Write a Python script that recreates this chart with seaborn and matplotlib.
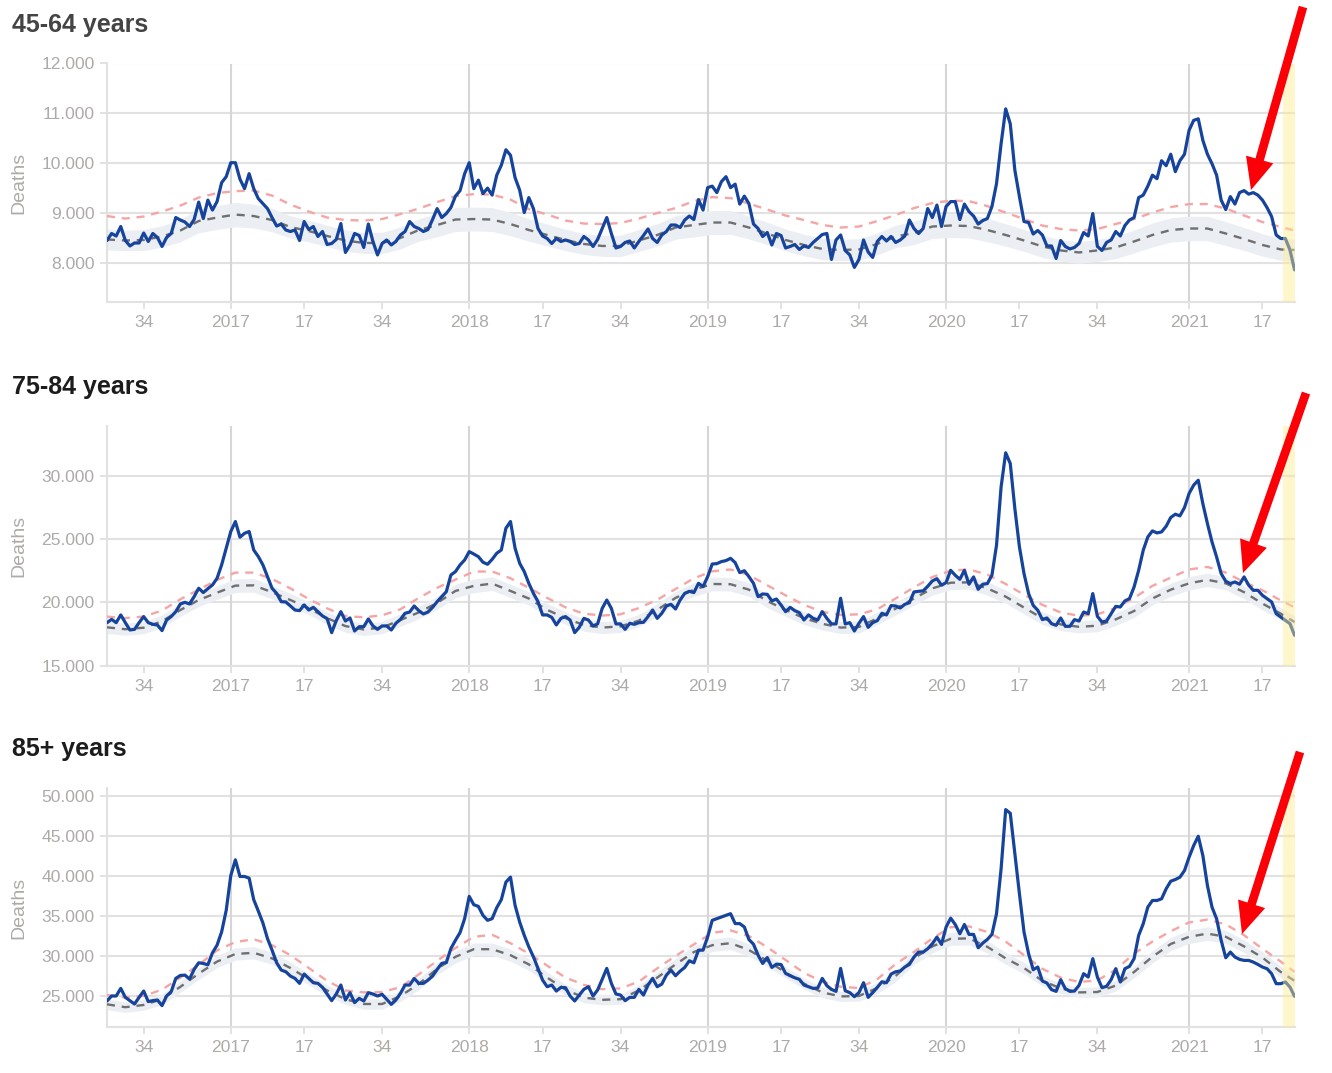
import matplotlib
matplotlib.use("Agg")
import matplotlib.pyplot as plt
import numpy as np
import pandas as pd
import seaborn as sns

sns.set_theme(style="white")
plt.rcParams["font.family"] = ["Liberation Sans", "DejaVu Sans"]

# weekly deaths (one row = 20 weeks)
deaths_45_64 = [
    8450, 8590, 8540, 8730, 8450, 8340, 8400, 8400, 8600, 8430, 8590, 8510, 8330, 8510, 8590, 8910, 8860, 8820, 8730, 8870,
    9220, 8890, 9260, 9060, 9230, 9610, 9730, 10010, 10010, 9680, 9490, 9790, 9490, 9290, 9190, 9090, 8910, 8740, 8780, 8660,
    8630, 8660, 8450, 8830, 8670, 8730, 8530, 8630, 8370, 8390, 8470, 8790, 8210, 8360, 8590, 8550, 8310, 8780, 8430, 8160,
    8390, 8460, 8360, 8430, 8560, 8630, 8830, 8730, 8690, 8630, 8670, 8870, 9090, 8910, 8990, 9110, 9340, 9450, 9790, 10010,
    9490, 9660, 9390, 9500, 9360, 9760, 9960, 10270, 10160, 9710, 9460, 9010, 9310, 9090, 8690, 8540, 8490, 8390, 8490, 8430,
    8460, 8430, 8370, 8390, 8530, 8460, 8330, 8470, 8690, 8910, 8590, 8300, 8330, 8410, 8440, 8300, 8430, 8550, 8680, 8490,
    8410, 8560, 8630, 8760, 8760, 8710, 8860, 8940, 8870, 9270, 9060, 9510, 9540, 9410, 9630, 9730, 9510, 9580, 9180, 9340,
    9190, 8780, 8690, 8530, 8610, 8360, 8590, 8550, 8300, 8330, 8370, 8270, 8340, 8310, 8410, 8490, 8570, 8590, 8070, 8460,
    8560, 8250, 8160, 7910, 8070, 8460, 8220, 8110, 8430, 8530, 8440, 8530, 8410, 8460, 8540, 8860, 8690, 8590, 8690, 9090,
    8910, 9160, 8730, 9130, 9230, 9230, 8870, 9180, 9030, 8940, 8780, 8850, 8890, 9130, 9590, 10390, 11090, 10790, 9860, 9330,
    8830, 8810, 8580, 8650, 8560, 8340, 8340, 8090, 8450, 8330, 8280, 8310, 8390, 8610, 8540, 8990, 8330, 8250, 8410, 8460,
    8630, 8540, 8750, 8860, 8910, 9310, 9360, 9540, 9760, 9690, 10050, 9950, 10180, 9830, 10050, 10180, 10660, 10860, 10890, 10460,
    10180, 9990, 9760, 9260, 9070, 9330, 9180, 9410, 9450, 9380, 9410, 9360, 9260, 9110, 8930, 8560, 8490, 8490, 8260, 7860,
]
deaths_75_84 = [
    18390, 18650, 18390, 19000, 18390, 17810, 17860, 18390, 18870, 18390, 18260, 18200, 17760, 18600, 18870, 19260, 19870, 20000, 19870, 20450,
    21110, 20770, 21080, 21370, 21900, 22960, 24280, 25600, 26390, 25150, 25460, 25600, 24140, 23620, 22960, 22030, 21110, 20710, 20050, 20030,
    19710, 19390, 19340, 19790, 19390, 19600, 19260, 18920, 18710, 17600, 18550, 19260, 18520, 18760, 17730, 18070, 18070, 18680, 18130, 17860,
    18130, 18130, 17810, 18340, 18650, 19130, 19230, 19710, 19340, 19080, 19230, 19600, 20050, 20450, 20840, 22160, 22430, 22960, 23350, 24010,
    23820, 23610, 23170, 23010, 23400, 23880, 24140, 25860, 26390, 24280, 23090, 22430, 21500, 20710, 20050, 19000, 19000, 18810, 18210, 18730,
    18870, 18600, 17600, 18020, 18730, 18600, 18130, 18290, 19520, 20180, 19520, 18290, 18290, 17860, 18340, 18260, 18390, 18420, 18870, 19390,
    18730, 19130, 19710, 19840, 19470, 20180, 20710, 20870, 20770, 21500, 21240, 22030, 23030, 23060, 23220, 23300, 23480, 23140, 22350, 22500,
    22030, 21500, 20450, 20660, 20630, 20110, 20260, 19790, 19260, 19600, 19340, 19180, 18600, 19000, 18730, 18600, 19260, 18730, 18290, 18290,
    20320, 18290, 18390, 17730, 18340, 18870, 18020, 18390, 18550, 19130, 19000, 19740, 19710, 19550, 19840, 19970, 20820, 20870, 20900, 21270,
    21690, 21870, 21350, 21560, 22530, 22140, 21820, 22530, 21430, 22010, 21030, 21430, 21480, 22140, 24510, 29130, 31830, 30980, 27420, 24380,
    22270, 20690, 19760, 19370, 18630, 18760, 18310, 18180, 18760, 18100, 18100, 18630, 18520, 19230, 19100, 20690, 18890, 18440, 18520, 19100,
    19680, 19630, 20110, 20290, 21210, 22530, 24120, 25170, 25650, 25490, 25570, 26020, 26710, 26970, 26840, 27500, 28610, 29270, 29660, 27810,
    26230, 24780, 23590, 22270, 21660, 21480, 21610, 21430, 22010, 21350, 20950, 20950, 20550, 20290, 20030, 19100, 18840, 18570, 18310, 17390,
]
deaths_85_plus = [
    24380, 25000, 25000, 25950, 24830, 24420, 24000, 24830, 25620, 24300, 24420, 24500, 23800, 25000, 25540, 27200, 27570, 27610, 27120, 28320,
    29150, 29070, 28900, 30400, 31350, 33010, 35710, 40060, 42020, 39940, 39940, 39730, 37040, 35620, 34130, 32180, 30730, 29150, 28240, 28030,
    27490, 27200, 26580, 27740, 27200, 26660, 26580, 26080, 25250, 24420, 25250, 26370, 24500, 25420, 24170, 24710, 24380, 25420, 25250, 25000,
    25210, 24590, 23960, 24500, 25330, 26370, 26370, 27200, 26580, 26580, 26990, 27490, 28320, 29070, 29190, 30930, 31970, 32930, 34670, 37450,
    36410, 36200, 35080, 34460, 34670, 36040, 37040, 39230, 39860, 36330, 34250, 32590, 31140, 29900, 28450, 26990, 26160, 26370, 25620, 26080,
    26040, 25000, 24380, 25120, 25830, 26160, 25000, 25750, 27080, 28450, 26580, 25250, 25120, 24420, 24830, 24830, 25830, 25120, 26370, 27200,
    26160, 26490, 27610, 28240, 27530, 28110, 28570, 29400, 29150, 30730, 30730, 32390, 34460, 34670, 34880, 35080, 35290, 34050, 34050, 33630,
    32060, 31470, 30100, 29070, 29810, 28570, 28980, 28940, 27820, 27530, 27280, 27080, 26370, 26160, 25950, 25990, 27200, 26290, 25830, 25580,
    28450, 25660, 25420, 24920, 25420, 26660, 24830, 25420, 26080, 26780, 26660, 27740, 28030, 28120, 28620, 28950, 29870, 30490, 30490, 30910,
    31530, 32360, 31450, 33610, 34730, 33940, 32780, 33940, 32700, 32700, 31030, 31610, 32070, 32700, 35280, 40890, 48300, 47840, 42760, 37770,
    32990, 30280, 28290, 28620, 26870, 26620, 25790, 25580, 27040, 25920, 25580, 25620, 26330, 27790, 27370, 29660, 27370, 26040, 26210, 27040,
    28410, 26750, 28410, 28700, 29660, 32570, 34030, 36110, 36940, 36940, 37150, 38400, 39350, 39560, 39850, 40680, 42350, 43800, 44970, 42560,
    38810, 36110, 34650, 31950, 29780, 30490, 29870, 29580, 29450, 29450, 29240, 28950, 28620, 28410, 27790, 26540, 26540, 26750, 26120, 24960,
]

# expected / upper limit / band half width, read every 4th week (one row = 11 readings)
expected_45_64 = [
    8470, 8450, 8460, 8530, 8650, 8840, 8910, 8970, 8940, 8860, 8720,
    8640, 8540, 8450, 8400, 8400, 8500, 8660, 8760, 8870, 8880, 8870,
    8780, 8660, 8560, 8460, 8380, 8340, 8340, 8450, 8560, 8710, 8760,
    8810, 8810, 8710, 8590, 8460, 8360, 8280, 8260, 8270, 8380, 8530,
    8600, 8730, 8750, 8740, 8660, 8560, 8450, 8330, 8250, 8210, 8250,
    8310, 8430, 8560, 8660, 8690, 8690, 8590, 8480, 8360, 8270, 8260,
]
upper_45_64 = [
    8940, 8890, 8930, 9030, 9150, 9310, 9400, 9440, 9450, 9350, 9170,
    9030, 8910, 8860, 8850, 8880, 8980, 9090, 9220, 9340, 9380, 9370,
    9270, 9080, 8970, 8850, 8790, 8780, 8800, 8890, 9000, 9100, 9240,
    9320, 9300, 9190, 9070, 8950, 8860, 8760, 8710, 8730, 8840, 8960,
    9100, 9200, 9250, 9240, 9140, 9010, 8880, 8750, 8680, 8650, 8680,
    8780, 8880, 9010, 9120, 9180, 9180, 9090, 8950, 8820, 8720, 8650,
]
spread_45_64 = [
    210, 205, 210, 215, 225, 235, 240, 245, 240, 235, 225,
    220, 215, 215, 210, 215, 220, 225, 235, 240, 240, 240,
    235, 225, 220, 215, 210, 210, 215, 220, 225, 235, 240,
    240, 240, 230, 225, 220, 215, 215, 215, 215, 220, 225,
    235, 240, 240, 240, 235, 225, 220, 220, 215, 215, 220,
    225, 230, 240, 245, 245, 245, 240, 230, 225, 220, 215,
]
expected_75_84 = [
    18020, 17870, 17990, 18500, 19390, 20180, 20760, 21320, 21340, 20800, 20180,
    19530, 18750, 18120, 17850, 18000, 18600, 19200, 19950, 20900, 21300, 21480,
    20900, 20300, 19400, 18750, 18200, 18000, 18100, 18550, 19400, 20350, 21000,
    21450, 21430, 21000, 20100, 19400, 18750, 18300, 18000, 18050, 18730, 19500,
    20300, 21100, 21550, 21580, 21100, 20450, 19580, 18740, 18250, 18060, 18150,
    18650, 19310, 20300, 21000, 21500, 21780, 21500, 20800, 19900, 19100, 18440,
]
upper_75_84 = [
    18870, 18750, 18870, 19350, 20240, 21000, 21770, 22350, 22350, 21850, 21100,
    20260, 19520, 18920, 18810, 18970, 19450, 20350, 21150, 21800, 22430, 22440,
    21900, 21150, 20350, 19600, 19100, 18950, 19050, 19550, 20200, 21050, 21900,
    22450, 22600, 22150, 21350, 20550, 19800, 19250, 19000, 19050, 19450, 20300,
    21180, 22000, 22500, 22600, 22200, 21450, 20600, 19800, 19200, 18930, 19050,
    19550, 20350, 21300, 21950, 22600, 22800, 22350, 21600, 20950, 20150, 19600,
]
spread_75_84 = [
    490, 480, 480, 490, 500, 510, 530, 540, 540, 530, 520,
    510, 500, 490, 480, 480, 490, 500, 510, 530, 540, 540,
    530, 520, 510, 500, 490, 480, 480, 490, 500, 520, 530,
    540, 540, 530, 520, 510, 500, 490, 480, 480, 490, 500,
    520, 530, 540, 540, 530, 520, 510, 500, 490, 480, 480,
    490, 500, 510, 520, 530, 530, 520, 510, 500, 490, 480,
]
expected_85_plus = [
    23960, 23600, 23880, 24600, 26150, 27800, 29300, 30250, 30400, 29700, 28500,
    27100, 25700, 24600, 24000, 24000, 25000, 26500, 28400, 29900, 30850, 30850,
    30100, 28950, 27300, 25800, 24800, 24520, 24600, 25700, 27300, 28950, 30500,
    31350, 31600, 30750, 29400, 27950, 26550, 25450, 24950, 25000, 26000, 27500,
    29700, 31200, 32150, 32200, 31150, 29700, 28500, 26900, 25950, 25450, 25500,
    26300, 28000, 29900, 31500, 32400, 32800, 32400, 31200, 29800, 28000, 26900,
]
upper_85_plus = [
    25120, 24800, 25000, 25800, 27300, 28900, 30700, 31750, 32100, 31350, 30100,
    28500, 26900, 25700, 25450, 25500, 26100, 27700, 29400, 31000, 32400, 32650,
    31600, 30300, 28800, 27300, 26400, 25850, 25950, 26800, 28450, 30000, 31450,
    32900, 33200, 32500, 31100, 29500, 27900, 26800, 26150, 26000, 27100, 29000,
    30500, 32200, 33600, 33700, 33000, 31800, 30100, 28400, 27300, 26750, 26950,
    28300, 30300, 31800, 33100, 34200, 34550, 33950, 32600, 30900, 29300, 28000,
]
spread_85_plus = [
    680, 660, 660, 680, 700, 730, 750, 770, 770, 750, 730,
    710, 680, 660, 650, 650, 670, 700, 730, 760, 780, 780,
    760, 730, 700, 670, 650, 640, 640, 670, 710, 740, 770,
    790, 790, 770, 730, 700, 670, 650, 640, 640, 670, 710,
    750, 790, 810, 810, 780, 740, 700, 660, 630, 620, 630,
    670, 720, 770, 810, 840, 840, 820, 780, 740, 700, 670,
]

week_idx = np.arange(260)
baseline_idx = list(range(0, 257, 4)) + [259]

x_ticks = [8, 27, 43, 60, 79, 95, 112, 131, 147, 164, 183, 199, 216, 236, 252]
x_labels = ["34", "2017", "17", "34", "2018", "17", "34", "2019", "17", "34", "2020", "17", "34", "2021", "17"]
year_ticks = [27, 79, 131, 183, 236]

W, H = 1332, 1073
GRID = "#e2e2e2"
TEXT = "#aeaaa8"


def add_panel(top, bottom, ylim, yticks, title, title_y, title_color, deaths, expected, upper, spread, arrow):
    ax = fig.add_axes([107 / W, 1 - bottom / H, 1188 / W, (bottom - top) / H])
    base = pd.DataFrame({"week": baseline_idx, "expected": expected, "upper": upper, "spread": spread})
    obs = pd.DataFrame({"week": week_idx, "deaths": deaths})

    ax.fill_between(base["week"], base["expected"] - base["spread"], base["expected"] + base["spread"],
                    color="#ebeff4", lw=0, zorder=2)
    sns.lineplot(data=base, x="week", y="upper", ax=ax, color="#f5a5a5", lw=1.7, linestyle=(0, (3.4, 2.9)), zorder=3)
    sns.lineplot(data=base, x="week", y="expected", ax=ax, color="#6f6f70", lw=1.7, linestyle=(0, (3.4, 2.9)), zorder=3)
    sns.lineplot(data=obs, x="week", y="deaths", ax=ax, color="#16439c", lw=2.3, zorder=4)
    ax.axvspan(256.5, 259.1, color="#ffec8c", alpha=0.45, lw=0, zorder=5)

    ax.set_xlim(0, 259.1)
    ax.set_ylim(*ylim)
    ax.set_xticks(x_ticks)
    ax.set_xticklabels(x_labels)
    ax.set_yticks(yticks)
    ax.set_yticklabels([f"{v:,}".replace(",", ".") for v in yticks])
    ax.tick_params(axis="x", colors=GRID, labelcolor=TEXT, labelsize=12.6, length=5, width=1.4, pad=4.5, bottom=True)
    ax.tick_params(axis="y", colors=GRID, labelcolor=TEXT, labelsize=12.6, length=5, width=1.4, pad=4, left=True)
    ax.grid(False)
    for v in yticks:
        ax.axhline(v, color=GRID, lw=1.5, zorder=1)
    for v in year_ticks:
        ax.axvline(v, color="#d6d6d8", lw=1.5, zorder=1)
    for s in ["top", "right"]:
        ax.spines[s].set_visible(False)
    for s in ["left", "bottom"]:
        ax.spines[s].set_color(GRID)
        ax.spines[s].set_linewidth(1.5)
    ax.set_xlabel("")
    ax.set_ylabel("")

    fig.text(19 / W, 1 - ((top + bottom) / 2) / H, "Deaths", rotation=90, color=TEXT,
             fontsize=14, ha="center", va="center")
    fig.text(12 / W, 1 - title_y / H, title, fontsize=18, fontweight="bold", color=title_color, va="baseline")

    (x0, y0), (x1, y1) = arrow
    fig.add_artist(plt.matplotlib.patches.FancyArrowPatch(
        (x0 / W, 1 - y0 / H), (x1 / W, 1 - y1 / H), transform=fig.transFigure,
        arrowstyle="simple,head_length=0.95,head_width=0.85,tail_width=0.26",
        mutation_scale=24, color="#fb0007", lw=0, shrinkA=0, shrinkB=0, zorder=10))


fig = plt.figure(figsize=(W / 100, H / 100), dpi=100, facecolor="white")

add_panel(63.5, 302, (7216, 12000), [8000, 9000, 10000, 11000, 12000], "45-64 years", 32, "#444444",
          deaths_45_64, expected_45_64, upper_45_64, spread_45_64, ((1303, 7), (1251, 190)))
add_panel(426, 665.5, (15000, 33950), [15000, 20000, 25000, 30000], "75-84 years", 394, "#1c1c1c",
          deaths_75_84, expected_75_84, upper_75_84, spread_75_84, ((1306, 393), (1243, 573)))
add_panel(788, 1027, (21125, 51000), [25000, 30000, 35000, 40000, 45000, 50000], "85+ years", 756, "#1c1c1c",
          deaths_85_plus, expected_85_plus, upper_85_plus, spread_85_plus, ((1300, 752), (1242, 934)))

fig.savefig("out.png", dpi=100)
